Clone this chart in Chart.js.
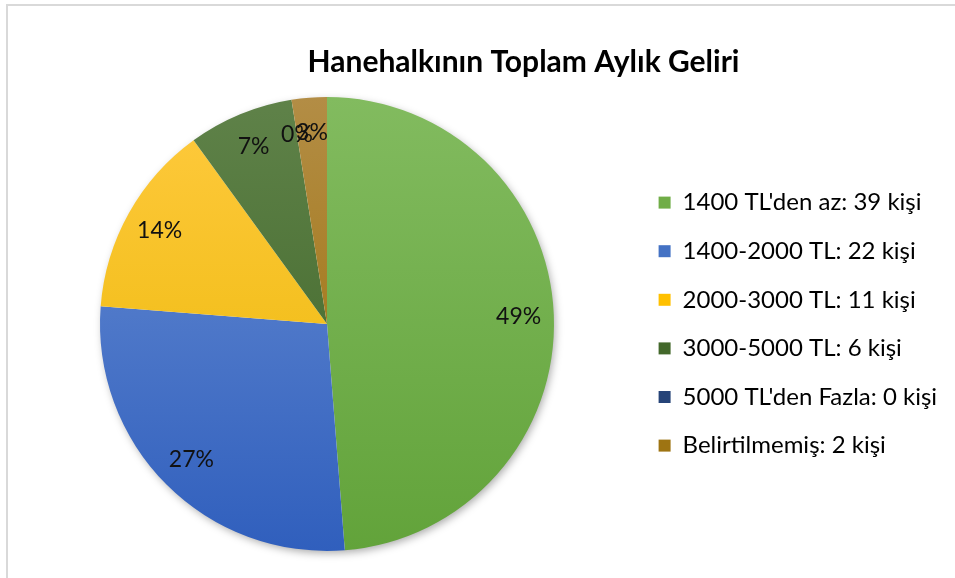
<!DOCTYPE html>
<html>
<head>
<meta charset="utf-8">
<script src="https://cdn.jsdelivr.net/npm/chart.js@4"></script>
<style>
  html, body { margin: 0; padding: 0; background: #fff; }
  #wrap { position: relative; width: 955px; height: 578px; overflow: hidden; }
  #frame { position: absolute; left: 6px; top: 4px; width: 1000px; height: 600px;
           border-left: 2px solid #d9d9d9; border-top: 2px solid #d9d9d9; }
  #myPie { position: absolute; left: 0; top: 0; }
</style>
</head>
<body>
<div id="wrap">
  <div id="frame"></div>
  <canvas id="myPie" width="955" height="578"></canvas>
</div>
<script>
// chart values
var categories = ["1400 TL'den az: 39 kişi", "1400-2000 TL: 22 kişi", "2000-3000 TL: 11 kişi",
                  "3000-5000 TL: 6 kişi", "5000 TL'den Fazla: 0 kişi", "Belirtilmemiş: 2 kişi"];
var counts = [39, 22, 11, 6, 0, 2];
var pctLabels = ["49%", "27%", "14%", "7%", "0%", "3%"];

// light (top) / dark (bottom) shades of each slice
var topColors = ["#82bb5f", "#6a8fd4", "#ffca3f", "#5f8249", "#34558e", "#b38d45"];
var bottomColors = ["#62a33a", "#305fbd", "#e9b600", "#3c6324", "#203c6e", "#9a6c00"];
var legendColors = ["#70ad47", "#4472c4", "#ffc000", "#43682b", "#264478", "#9e7412"];

var FONT = 'Lato, "Open Sans", sans-serif';

function sliceFill(context) {
  var chart = context.chart;
  var i = context.dataIndex;
  var area = chart.chartArea;
  if (!area) return legendColors[i];
  var g = chart.ctx.createLinearGradient(0, area.top, 0, area.bottom);
  g.addColorStop(0, topColors[i]);
  g.addColorStop(1, bottomColors[i]);
  return g;
}

// soft shadow behind the pie
var pieShadow = {
  id: 'pieShadow',
  beforeDatasetsDraw: function(chart) {
    var arc = chart.getDatasetMeta(0).data[0];
    if (!arc) return;
    var p = arc.getProps(['x', 'y', 'outerRadius'], true);
    var ctx = chart.ctx;
    ctx.save();
    ctx.shadowColor = 'rgba(0,0,0,0.35)';
    ctx.shadowBlur = 9;
    ctx.shadowOffsetX = 2;
    ctx.shadowOffsetY = 3;
    ctx.fillStyle = '#ffffff';
    ctx.beginPath();
    ctx.arc(p.x, p.y, p.outerRadius - 1, 0, Math.PI * 2);
    ctx.fill();
    ctx.restore();
  }
};

// percentage labels inside slices
var pieLabels = {
  id: 'pieLabels',
  afterDatasetsDraw: function(chart) {
    var ctx = chart.ctx;
    var meta = chart.getDatasetMeta(0);
    ctx.save();
    ctx.font = '23px ' + FONT;
    ctx.fillStyle = '#111';
    ctx.textAlign = 'center';
    ctx.textBaseline = 'middle';
    meta.data.forEach(function(arc, i) {
      var p = arc.getProps(['x', 'y', 'startAngle', 'endAngle', 'outerRadius'], true);
      var mid = (p.startAngle + p.endAngle) / 2;
      var r = p.outerRadius * 0.845;
      ctx.fillText(pctLabels[i], p.x + Math.cos(mid) * r, p.y + Math.sin(mid) * r);
    });
    ctx.restore();
  }
};

// place pie, title and legend like the original
var placeBoxes = {
  id: 'placeBoxes',
  afterLayout: function(chart) {
    var a = chart.chartArea;
    a.left = 99; a.right = 555; a.top = 97; a.bottom = 551;
    a.width = a.right - a.left; a.height = a.bottom - a.top;
    if (chart.titleBlock) {
      chart.titleBlock.left = 307;
      chart.titleBlock.right = 740;
    }
    var lg = chart.legend;
    if (lg) {
      var w = lg.width, h = lg.height;
      lg.left = 634; lg.right = 634 + w;
      lg.top = 166; lg.bottom = 166 + h;
    }
  }
};

var canvasPie = document.getElementById("myPie");
var myPie = new Chart(canvasPie, {
  type: 'pie',
  data: {
    labels: categories,
    datasets: [{
      data: counts,
      backgroundColor: sliceFill,
      borderWidth: 0
    }]
  },
  options: {
    responsive: false,
    animation: false,
    layout: { padding: { left: 20, right: 5, top: 0, bottom: 27 } },
    plugins: {
      title: {
        display: true,
        text: 'Hanehalkının Toplam Aylık Geliri',
        color: '#000',
        font: { family: FONT, size: 30, weight: 'bold', lineHeight: 1.2 },
        padding: { top: 44, bottom: 17 }
      },
      legend: {
        position: 'right',
        align: 'start',
        labels: {
          boxWidth: 12,
          boxHeight: 12,
          padding: 24.6,
          color: '#111',
          font: { family: FONT, size: 24 },
          generateLabels: function(chart) {
            return categories.map(function(c, i) {
              return { text: c, fillStyle: legendColors[i], strokeStyle: legendColors[i],
                       lineWidth: 0, hidden: false, index: i };
            });
          }
        }
      },
      tooltip: { enabled: false }
    }
  },
  plugins: [pieShadow, pieLabels, placeBoxes]
});
</script>
</body>
</html>
